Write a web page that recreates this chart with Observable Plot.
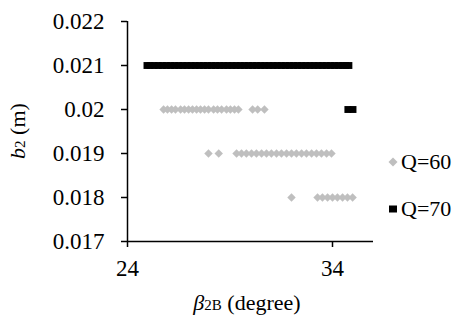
<!DOCTYPE html>
<html>
<head>
<meta charset="utf-8">
<script src="https://cdn.jsdelivr.net/npm/d3@7"></script>
<script src="https://cdn.jsdelivr.net/npm/@observablehq/plot@0.6"></script>
<style>
  html, body { margin: 0; padding: 0; background: #fff; font-family: 'Liberation Serif'; }
  #wrap { position: relative; width: 459px; height: 325px; font-family: 'Liberation Serif'; }
  .leg { position: absolute; left: 388px; height: 24px; font-size: 22px; line-height: 24px; color: #000; display: flex; align-items: center; white-space: nowrap; font-family: 'Liberation Serif'; }
  .leg svg { margin-right: 3px; }
</style>
</head>
<body>
<div id="wrap"></div>
<script>
// Q=60 series (gray diamonds), beta2B values grouped by b2 level
const q60_b020 = [25.76, 25.95, 26.15, 26.34, 26.59, 26.78, 26.98, 27.17, 27.37, 27.56, 27.76, 27.95, 28.2, 28.39, 28.59, 28.83, 29.02, 29.22, 29.41, 30.1, 30.35, 30.68];
const q60_b019 = [27.95, 28.45, 29.32, 29.56, 29.8, 30.05, 30.29, 30.54, 30.78, 31.02, 31.27, 31.51, 31.76, 32.0, 32.24, 32.49, 32.73, 32.98, 33.22, 33.46, 33.71, 33.95];
const q60_b018 = [32.0, 33.27, 33.51, 33.76, 34.0, 34.24, 34.49, 34.73, 34.98];
// Q=70 series (black squares)
const q70_b021 = [24.95, 25.1, 25.3, 25.5, 25.7, 25.9, 26.1, 26.3, 26.5, 26.7, 26.9, 27.1, 27.3, 27.5, 27.7, 27.9, 28.1, 28.3, 28.5, 28.7, 28.9, 29.1, 29.3, 29.5, 29.7, 29.9, 30.1, 30.3, 30.5, 30.7, 30.9, 31.1, 31.3, 31.5, 31.7, 31.9, 32.1, 32.3, 32.5, 32.7, 32.9, 33.1, 33.3, 33.5, 33.7, 33.9, 34.1, 34.3, 34.5, 34.65, 34.8];
const q70_b020 = [34.75, 35.0];

const seriesNames = ["Q=60", "Q=70"];
const xTicks = [24, 34];
const yTicks = [0.017, 0.018, 0.019, 0.02, 0.021, 0.022];
const yTickLabels = ["0.017", "0.018", "0.019", "0.02", "0.021", "0.022"];

const q60 = [
  ...q60_b020.map(x => ({x, y: 0.020})),
  ...q60_b019.map(x => ({x, y: 0.019})),
  ...q60_b018.map(x => ({x, y: 0.018}))
];
const q70 = [
  ...q70_b021.map(x => ({x, y: 0.021})),
  ...q70_b020.map(x => ({x, y: 0.020}))
];

const fs = 23;

const chart = Plot.plot({
  width: 459,
  height: 325,
  marginLeft: 127,
  marginRight: 86,
  marginTop: 21,
  marginBottom: 84,
  style: "font-family: 'Liberation Serif'; font-size: 23px; color: #000; background: #fff;",
  x: {domain: [24, 36]},
  y: {domain: [0.017, 0.022]},
  marks: [
    Plot.dot(q60, {x: "x", y: "y", symbol: "diamond2", r: 3.8, fill: "#bfbfbf", stroke: "none"}),
    Plot.dot(q70, {x: "x", y: "y", symbol: "square", r: 3.9, fill: "#000", stroke: "none"}),
    Plot.ruleX([24], {stroke: "#000", strokeWidth: 1.5}),
    Plot.ruleY([0.017], {stroke: "#000", strokeWidth: 1.5}),
    Plot.axisY({ticks: yTicks, tickFormat: d => yTickLabels[yTicks.indexOf(d)], tickSize: 6, tickPadding: 17, label: null, strokeWidth: 1.5, fontSize: fs}),
    Plot.axisX({ticks: xTicks, tickFormat: d => String(d), tickSize: 6, tickPadding: 12, label: null, strokeWidth: 1.5, fontSize: fs})
  ]
});

const wrap = document.getElementById("wrap");
wrap.appendChild(chart);

// Axis titles with subscripts
const svg = d3.select(chart);
const yl = svg.append("text")
  .attr("transform", "translate(25,131) rotate(-90)")
  .attr("text-anchor", "middle")
  .attr("font-family", "Liberation Serif")
  .attr("font-size", 22)
  .attr("fill", "#000");
yl.append("tspan").attr("font-style", "italic").text("b");
yl.append("tspan").attr("font-size", 15).text("2");
yl.append("tspan").text(" (m)");

const xl = svg.append("text")
  .attr("x", 247).attr("y", 310)
  .attr("text-anchor", "middle")
  .attr("font-family", "Liberation Serif")
  .attr("font-size", 22)
  .attr("fill", "#000");
xl.append("tspan").attr("font-style", "italic").text("β");
xl.append("tspan").attr("font-size", 15).text("2B");
xl.append("tspan").text(" (degree)");

// Legend
const legend = [
  {name: seriesNames[0], top: 150, shape: '<svg width="10" height="10"><path d="M5,0.5L9.5,5L5,9.5L0.5,5Z" fill="#bfbfbf"/></svg>'},
  {name: seriesNames[1], top: 197, shape: '<svg width="10" height="10"><rect x="1" y="1.5" width="8" height="7" fill="#000"/></svg>'}
];
for (const l of legend) {
  const d = document.createElement("div");
  d.className = "leg";
  d.style.top = l.top + "px";
  d.innerHTML = l.shape + "<span>" + l.name + "</span>";
  wrap.appendChild(d);
}
</script>
</body>
</html>
